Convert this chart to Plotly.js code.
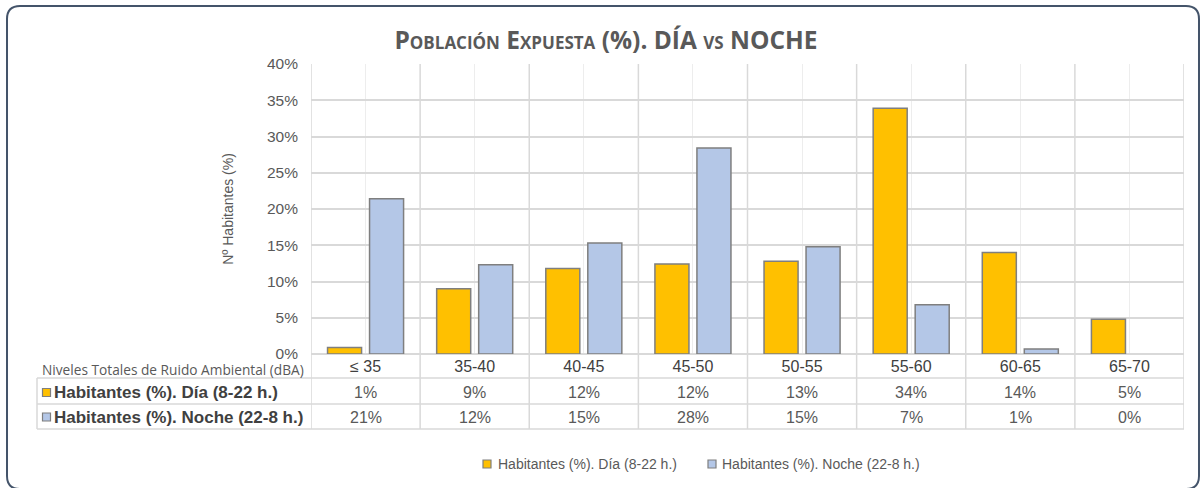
<!DOCTYPE html>
<html>
<head>
<meta charset="utf-8">
<script src="https://cdn.plot.ly/plotly-3.0.1.min.js"></script>
<style>
  html, body { margin: 0; padding: 0; background: #ffffff; }
  #chart { width: 1200px; height: 488px; }
</style>
</head>
<body>
<div id="chart"></div>
<script>
// ---- Data ----
const categories = ['\u2264 35', '35-40', '40-45', '45-50', '50-55', '55-60', '60-65', '65-70'];
const dayValues = [0.9, 9.0, 11.8, 12.4, 12.8, 33.9, 14.0, 4.8];
const nightValues = [21.4, 12.3, 15.3, 28.4, 14.8, 6.8, 0.7, 0.0];
const seriesNames = ['Habitantes (%). D\u00eda (8-22 h.)', 'Habitantes (%). Noche (22-8 h.)'];
const tableHeaderLabel = 'Niveles Totales de Ruido Ambiental (dBA)';
const chartTitle = 'Poblaci\u00f3n Expuesta (%). D\u00cdA vs NOCHE';
const yAxisTitle = 'N\u00ba Habitantes (%)';

// ---- Styling ----
const dayColor = '#FFC000';
const nightColor = '#B4C7E7';
const barEdge = '#7f7f7f';
const gridColor = '#d9d9d9';
const textColor = '#595959';
const sansFont = 'Liberation Sans, Arial, sans-serif';

// ---- Geometry helpers (pixel -> paper) ----
const W = 1200, H = 488;
const mL = 311, mR = 16, mT = 64, mB = 134;
const plotW = W - mL - mR, plotH = H - mT - mB;
const px2x = X => (X - mL) / plotW;
const px2y = Y => (H - mB - Y) / plotH;

// zero-height bars get no outline (as in the original)
const edgeWidths = vals => vals.map(v => (v > 0 ? 1.5 : 0));

const traces = [
  {
    type: 'bar', name: seriesNames[0], x: categories, y: dayValues,
    marker: { color: dayColor, line: { color: barEdge, width: edgeWidths(dayValues) } },
    hoverinfo: 'x+y'
  },
  {
    type: 'bar', name: seriesNames[1], x: categories, y: nightValues,
    marker: { color: nightColor, line: { color: barEdge, width: edgeWidths(nightValues) } },
    hoverinfo: 'x+y'
  }
];

const shapes = [];
const annotations = [];

// vertical boundary lines through plot and table
for (let i = 0; i <= categories.length; i++) {
  shapes.push({
    type: 'line', xref: 'x', yref: 'paper', layer: 'below',
    x0: i - 0.5, x1: i - 0.5, y0: px2y(429), y1: 1,
    line: { color: gridColor, width: 1.5 }
  });
}
// table horizontal lines
[378, 404, 429].forEach(Y => {
  shapes.push({
    type: 'line', xref: 'paper', yref: 'paper', layer: 'below',
    x0: px2x(37), x1: 1, y0: px2y(Y), y1: px2y(Y),
    line: { color: gridColor, width: 1.5 }
  });
});
shapes.push({
  type: 'line', xref: 'paper', yref: 'paper', layer: 'below',
  x0: px2x(37), x1: px2x(37), y0: px2y(378), y1: px2y(429),
  line: { color: gridColor, width: 1.5 }
});

// table header label
annotations.push({
  xref: 'paper', yref: 'paper', x: px2x(306), y: px2y(369),
  xanchor: 'right', yanchor: 'middle', showarrow: false,
  text: tableHeaderLabel,
  font: { family: 'Open Sans, Noto Sans, sans-serif', size: 13.7, color: textColor }
});

// table rows
const rows = [
  { name: seriesNames[0], values: dayValues, color: dayColor, Y: 392.5 },
  { name: seriesNames[1], values: nightValues, color: nightColor, Y: 417 }
];
rows.forEach(r => {
  shapes.push({
    type: 'rect', xref: 'paper', yref: 'paper', layer: 'above',
    x0: px2x(42.5), x1: px2x(50.5), y0: px2y(r.Y - 4), y1: px2y(r.Y + 4),
    fillcolor: r.color, line: { color: barEdge, width: 1.2 }
  });
  annotations.push({
    xref: 'paper', yref: 'paper', x: px2x(52), y: px2y(r.Y),
    xanchor: 'left', yanchor: 'middle', showarrow: false,
    text: '<b>' + r.name + '</b>',
    font: { family: sansFont, size: 17, color: '#404040' }
  });
  r.values.forEach((v, i) => {
    annotations.push({
      xref: 'x', yref: 'paper', x: categories[i], y: px2y(r.Y),
      xanchor: 'center', yanchor: 'middle', showarrow: false,
      text: Math.round(v) + '%',
      font: { family: sansFont, size: 16, color: textColor }
    });
  });
});

// manual legend
const legendItems = [
  { name: seriesNames[0], color: dayColor, mx: 487, tx: 496 },
  { name: seriesNames[1], color: nightColor, mx: 712, tx: 720 }
];
legendItems.forEach(l => {
  shapes.push({
    type: 'rect', xref: 'paper', yref: 'paper', layer: 'above',
    x0: px2x(l.mx - 4), x1: px2x(l.mx + 4), y0: px2y(464 - 4), y1: px2y(464 + 4),
    fillcolor: l.color, line: { color: barEdge, width: 1.2 }
  });
  annotations.push({
    xref: 'paper', yref: 'paper', x: px2x(l.tx), y: px2y(464),
    xanchor: 'left', yanchor: 'middle', showarrow: false,
    text: l.name,
    font: { family: sansFont, size: 14, color: textColor }
  });
});

// outer rounded border
(function () {
  const x0 = 7, y0 = 6, x1 = 1199, y1 = 489, r = 13;
  const P = (X, Y) => px2x(X).toFixed(5) + ',' + px2y(Y).toFixed(5);
  const path = 'M' + P(x0 + r, y0) + ' L' + P(x1 - r, y0) +
    ' Q' + P(x1, y0) + ' ' + P(x1, y0 + r) +
    ' L' + P(x1, y1 - r) + ' Q' + P(x1, y1) + ' ' + P(x1 - r, y1) +
    ' L' + P(x0 + r, y1) + ' Q' + P(x0, y1) + ' ' + P(x0, y1 - r) +
    ' L' + P(x0, y0 + r) + ' Q' + P(x0, y0) + ' ' + P(x0 + r, y0) + ' Z';
  shapes.push({
    type: 'path', xref: 'paper', yref: 'paper', layer: 'above', path: path,
    line: { color: '#44546a', width: 2 }
  });
})();

const layout = {
  width: W, height: H,
  margin: { l: mL, r: mR, t: mT, b: mB, pad: 0 },
  paper_bgcolor: '#ffffff', plot_bgcolor: '#ffffff',
  showlegend: false,
  barmode: 'group', bargap: 0.23, bargroupgap: 0.19,
  title: {
    text: chartTitle,
    x: 0.505, xanchor: 'center', y: 1 - 40 / H, yanchor: 'middle',
    font: { family: 'Open Sans, Noto Sans, sans-serif', size: 24.5, weight: 700, color: textColor, variant: 'small-caps' }
  },
  xaxis: {
    type: 'category', range: [-0.5, categories.length - 0.5],
    showgrid: true, gridcolor: '#ededed', gridwidth: 1,
    showline: false, zeroline: false, ticks: '',
    tickfont: { family: sansFont, size: 16, color: '#404040' },
    ticklabelstandoff: 1,
    fixedrange: true
  },
  yaxis: {
    range: [0, 40], dtick: 5, ticksuffix: '%',
    showgrid: true, gridcolor: gridColor, gridwidth: 1.5,
    zeroline: true, zerolinecolor: gridColor, zerolinewidth: 1.5,
    showline: false, ticks: '',
    tickfont: { family: sansFont, size: 15.5, color: textColor },
    ticklabelstandoff: 12,
    title: { text: yAxisTitle, standoff: 30,
      font: { family: sansFont, size: 14, color: textColor } },
    fixedrange: true
  },
  shapes: shapes,
  annotations: annotations
};

Plotly.newPlot('chart', traces, layout, { displayModeBar: false, responsive: false });
</script>
</body>
</html>
